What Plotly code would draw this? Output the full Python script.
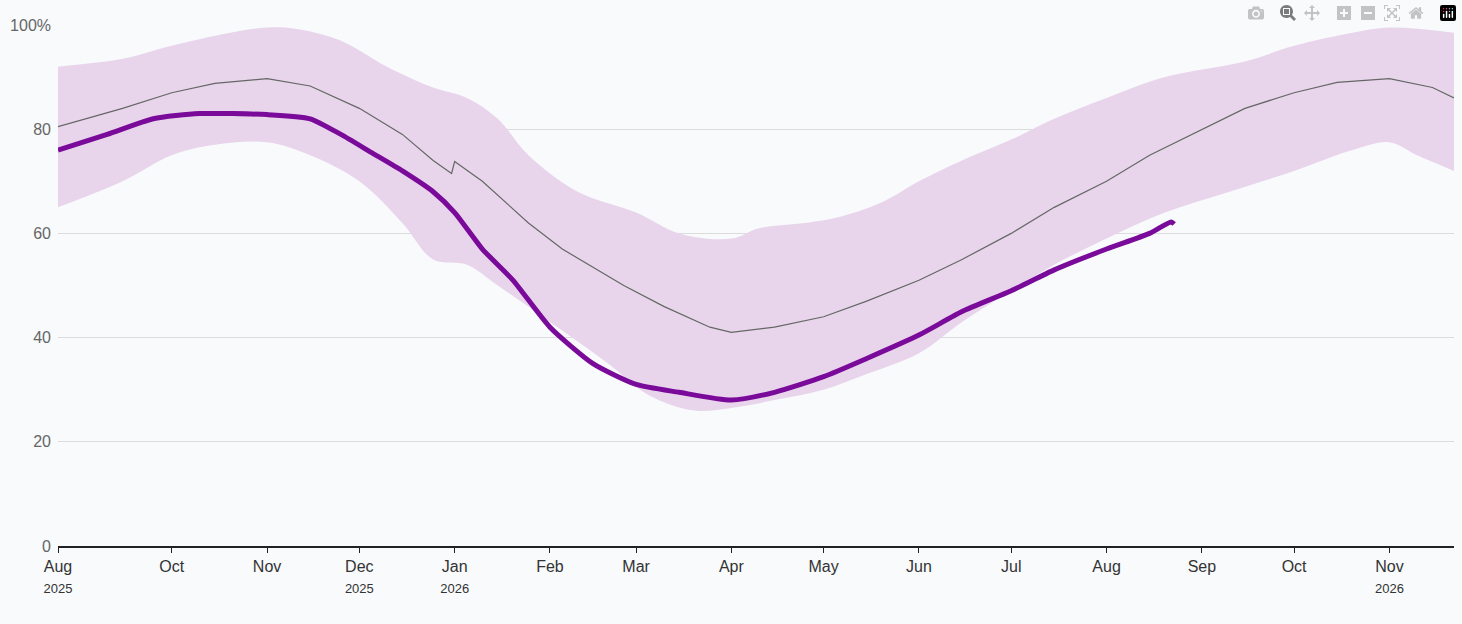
import plotly.graph_objects as go

mean_dates = ["2025-08-25","2025-09-15","2025-10-01","2025-10-15","2025-11-01","2025-11-15","2025-12-01","2025-12-15","2025-12-25","2025-12-31","2026-01-01","2026-01-10","2026-01-25","2026-02-05","2026-02-25","2026-03-10","2026-03-25","2026-04-01","2026-04-15","2026-05-01","2026-05-15","2026-06-01","2026-06-15","2026-07-01","2026-07-15","2026-08-01","2026-08-15","2026-09-01","2026-09-15","2026-10-01","2026-10-15","2026-11-01","2026-11-15","2026-11-22"]
mean_vals = [80.5,84,87,88.8,89.7,88.3,84,79,74,71.5,73.8,70,62,57,50,46,42,41,42,44,47,51,55,60,65,70,75,80,84,87,89,89.7,88,86]

up_dates = ["2025-08-25","2025-09-15","2025-10-01","2025-10-20","2025-11-01","2025-11-10","2025-11-25","2025-12-10","2025-12-25","2026-01-05","2026-01-15","2026-01-25","2026-02-10","2026-03-01","2026-03-15","2026-04-01","2026-04-10","2026-04-25","2026-05-05","2026-05-20","2026-06-01","2026-06-15","2026-07-01","2026-07-15","2026-08-01","2026-08-20","2026-09-15","2026-10-01","2026-10-20","2026-11-01","2026-11-22"]
up_vals = [92,93.5,96,98.5,99.5,99.3,97,92,88,86,82,75,68,64,60,59,61,62,63,66,70,74,78,82,86,90,93,96,98.5,99.5,98.5]

lo_dates = ["2025-08-25","2025-09-15","2025-10-01","2025-10-15","2025-11-01","2025-11-15","2025-12-01","2025-12-15","2025-12-25","2026-01-05","2026-01-15","2026-02-01","2026-02-20","2026-03-05","2026-03-20","2026-04-01","2026-04-15","2026-05-01","2026-05-15","2026-06-01","2026-06-15","2026-07-01","2026-07-15","2026-08-01","2026-08-20","2026-09-10","2026-10-01","2026-10-20","2026-11-01","2026-11-10","2026-11-22"]
lo_vals = [65,70,75,77,77.5,75,70,62,55,54,50,43,35,29,26,26.5,28,30,33,37,43,49,54,59,64,68,72,76,77.5,75,72]

cur_dates = ["2025-08-25","2025-09-10","2025-09-25","2025-10-10","2025-11-01","2025-11-15","2025-11-25","2025-12-05","2025-12-15","2025-12-25","2026-01-01","2026-01-10","2026-01-20","2026-02-01","2026-02-15","2026-03-01","2026-03-15","2026-04-01","2026-04-15","2026-05-01","2026-05-15","2026-06-01","2026-06-15","2026-07-01","2026-07-15","2026-08-01","2026-08-15","2026-08-22","2026-08-23"]
cur_vals = [76,79,82,83,82.8,82,79,75.5,72,68,64,57,51,42,35,31,29.5,28,29.5,32.5,36,40.5,45,49,53,57,60,62.2,61.8]

tick_vals = ["2025-08-25","2025-10-01","2025-11-01","2025-12-01","2026-01-01","2026-02-01","2026-03-01","2026-04-01","2026-05-01","2026-06-01","2026-07-01","2026-08-01","2026-09-01","2026-10-01","2026-11-01"]
tick_text = ["Aug<br><span style='font-size:13px'>2025</span>","Oct","Nov","Dec<br><span style='font-size:13px'>2025</span>","Jan<br><span style='font-size:13px'>2026</span>","Feb","Mar","Apr","May","Jun","Jul","Aug","Sep","Oct","Nov<br><span style='font-size:13px'>2026</span>"]

fig = go.Figure()
fig.add_trace(go.Scatter(x=lo_dates, y=lo_vals, mode="lines", line=dict(width=0, shape="spline"), hoverinfo="skip", showlegend=False))
fig.add_trace(go.Scatter(x=up_dates, y=up_vals, mode="lines", line=dict(width=0, shape="spline"), fill="tonexty", fillcolor="#e8d5ec", showlegend=False))
fig.add_trace(go.Scatter(x=mean_dates, y=mean_vals, mode="lines", line=dict(color="#666", width=1.2), showlegend=False))
fig.add_trace(go.Scatter(x=cur_dates, y=cur_vals, mode="lines", line=dict(color="#7a0a99", width=5, shape="spline", smoothing=0.6), showlegend=False))

fig.update_layout(
    width=1462, height=624, margin=dict(l=58, r=8, t=25, b=78),
    paper_bgcolor="#f8fafc", plot_bgcolor="#f8fafc",
    font=dict(family="Liberation Sans, Arial", size=16, color="#333"),
    xaxis=dict(range=["2025-08-25","2026-11-22"], tickvals=tick_vals, ticktext=tick_text,
               showgrid=False, showline=True, linecolor="#222", linewidth=1.5,
               ticks="outside", ticklen=5, tickcolor="#222"),
    yaxis=dict(range=[0,100], tickvals=[0,20,40,60,80,100], ticktext=["0","20","40","60","80","100%"],
               gridcolor="#dcdcdc", zeroline=False, tickfont=dict(color="#666"), ticklabelstandoff=6),
)
fig.write_html("out.html", post_script="document.body.style.margin='0';document.body.style.background='#f8fafc';")
